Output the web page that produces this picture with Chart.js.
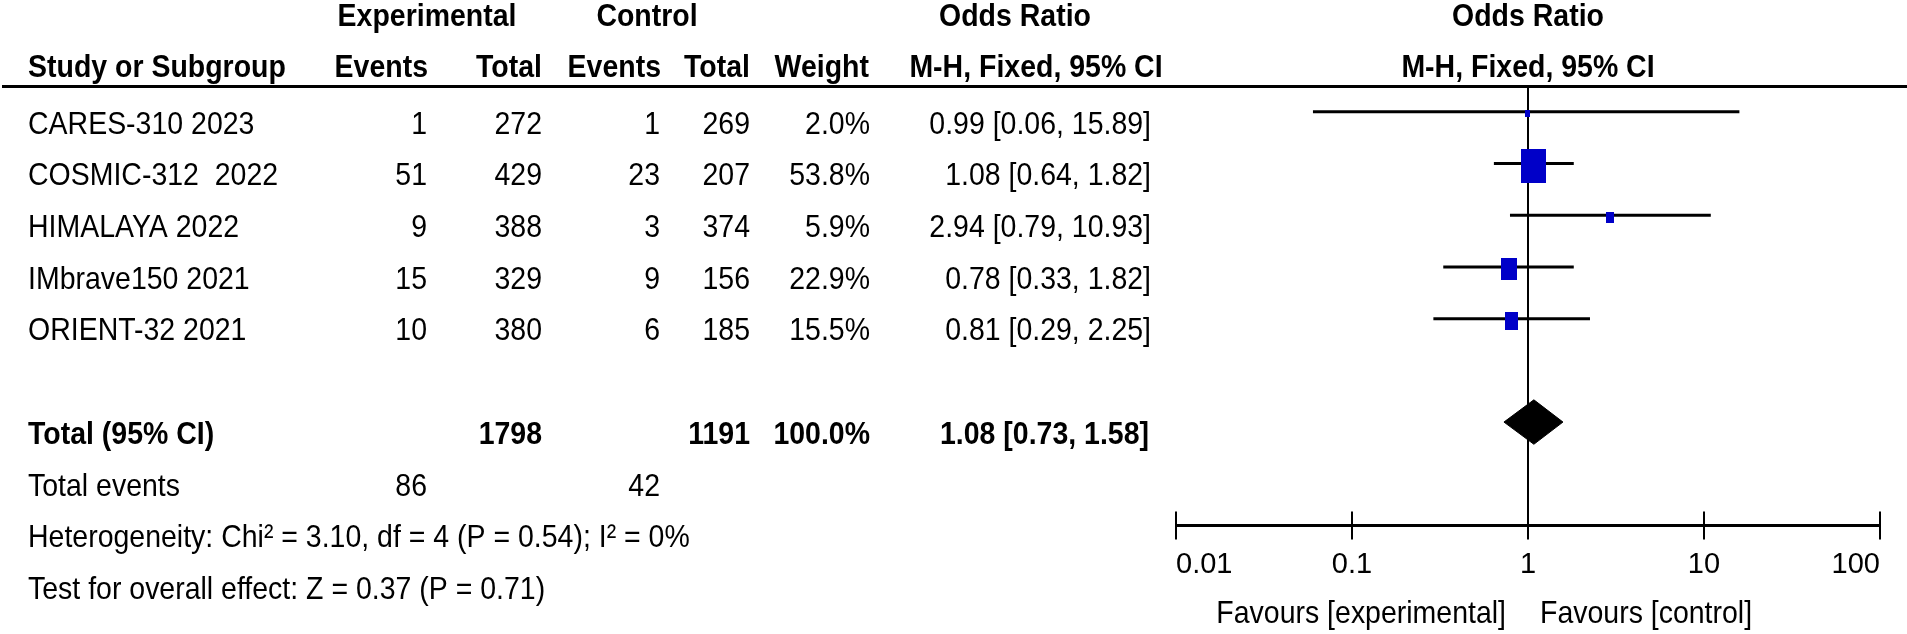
<!DOCTYPE html>
<html>
<head>
<meta charset="utf-8">
<script src="https://cdn.jsdelivr.net/npm/chart.js@4.4.1/dist/chart.umd.min.js"></script>
<style>
  html, body { margin: 0; padding: 0; background: #fff; }
  #wrap { width: 1907px; height: 634px; }
</style>
</head>
<body>
<div id="wrap"><canvas id="forest" width="1907" height="634"></canvas></div>
<script>
const studies = ["CARES-310 2023", "COSMIC-312  2022", "HIMALAYA 2022", "IMbrave150 2021", "ORIENT-32 2021"];
const expEvents = [1, 51, 9, 15, 10];
const expTotal = [272, 429, 388, 329, 380];
const ctrlEvents = [1, 23, 3, 9, 6];
const ctrlTotal = [269, 207, 374, 156, 185];
const weights = [2.0, 53.8, 5.9, 22.9, 15.5];
const oddsRatio = [0.99, 1.08, 2.94, 0.78, 0.81];
const ciLow = [0.06, 0.64, 0.79, 0.33, 0.29];
const ciHigh = [15.89, 1.82, 10.93, 1.82, 2.25];

const pooled = [1.08, 0.73, 1.58]; // OR, low, high
const totalExp = 1798;
const totalCtrl = 1191;
const totalWeight = 100.0;
const totalEvents = [86, 42];
const heterogeneity = "Heterogeneity: Chi² = 3.10, df = 4 (P = 0.54); I² = 0%";
const overallTest = "Test for overall effect: Z = 0.37 (P = 0.71)";

const tickValues = [0.01, 0.1, 1, 10, 100];
const tickLabels = ["0.01", "0.1", "1", "10", "100"];

const totalRow = 6;
const axisRow = 8;
const FONT = '"Liberation Sans", Arial, sans-serif';
const SX = 0.89; // text in the picture is a bit narrow

function ci(o, l, h) {
  return o.toFixed(2) + " [" + l.toFixed(2) + ", " + h.toFixed(2) + "]";
}

function box(w) {
  // square size from the weight, like RevMan
  const f = Math.sqrt(w / 53.8);
  const c = document.createElement("canvas");
  c.width = Math.max(4, Math.round(25 * f));
  c.height = Math.max(7, Math.round(34 * f));
  const g = c.getContext("2d");
  g.fillStyle = "#0000c8";
  g.fillRect(0, 0, c.width, c.height);
  return c;
}

function txt(ctx, s, x, y, align, bold) {
  ctx.save();
  ctx.font = (bold ? "bold " : "") + "32px " + FONT;
  ctx.fillStyle = "#000";
  ctx.textAlign = align;
  ctx.textBaseline = "middle";
  ctx.scale(SX, 1);
  ctx.fillText(s, x / SX, y);
  ctx.restore();
}

const forestBits = {
  id: "forestBits",
  beforeDatasetsDraw(chart) {
    const { ctx, scales: { x, y } } = chart;
    const x1 = x.getPixelForValue(1);
    const ay = y.getPixelForValue(axisRow);
    ctx.save();
    ctx.strokeStyle = "#000";
    ctx.lineWidth = 2;
    ctx.beginPath();
    ctx.moveTo(x1, chart.chartArea.top);
    ctx.lineTo(x1, ay);
    ctx.stroke();
    // tick marks across the axis
    x.ticks.forEach(t => {
      const px = x.getPixelForValue(t.value);
      ctx.beginPath();
      ctx.moveTo(px, ay - 14);
      ctx.lineTo(px, ay + 14);
      ctx.stroke();
    });
    ctx.restore();
  },
  afterDraw(chart) {
    const { ctx, scales: { x, y } } = chart;
    const row = k => y.getPixelForValue(k) + 13;

    // header rule
    ctx.save();
    ctx.fillStyle = "#000";
    ctx.fillRect(2, chart.chartArea.top - 1, chart.width - 2, 3);
    ctx.restore();

    // headers
    txt(ctx, "Experimental", 427, 17, "center", true);
    txt(ctx, "Control", 647, 17, "center", true);
    txt(ctx, "Odds Ratio", 1015, 17, "center", true);
    txt(ctx, "Odds Ratio", x.getPixelForValue(1), 17, "center", true);
    txt(ctx, "Study or Subgroup", 28, 68, "left", true);
    txt(ctx, "Events", 428, 68, "right", true);
    txt(ctx, "Total", 542, 68, "right", true);
    txt(ctx, "Events", 661, 68, "right", true);
    txt(ctx, "Total", 750, 68, "right", true);
    txt(ctx, "Weight", 869, 68, "right", true);
    txt(ctx, "M-H, Fixed, 95% CI", 1036, 68, "center", true);
    txt(ctx, "M-H, Fixed, 95% CI", x.getPixelForValue(1), 68, "center", true);

    // study rows
    studies.forEach((s, i) => {
      const ry = row(i);
      txt(ctx, s, 28, ry, "left");
      txt(ctx, String(expEvents[i]), 427, ry, "right");
      txt(ctx, String(expTotal[i]), 542, ry, "right");
      txt(ctx, String(ctrlEvents[i]), 660, ry, "right");
      txt(ctx, String(ctrlTotal[i]), 750, ry, "right");
      txt(ctx, weights[i].toFixed(1) + "%", 870, ry, "right");
      txt(ctx, ci(oddsRatio[i], ciLow[i], ciHigh[i]), 1151, ry, "right");
    });

    // total rows
    const ty = row(totalRow);
    txt(ctx, "Total (95% CI)", 28, ty, "left", true);
    txt(ctx, String(totalExp), 542, ty, "right", true);
    txt(ctx, String(totalCtrl), 750, ty, "right", true);
    txt(ctx, totalWeight.toFixed(1) + "%", 870, ty, "right", true);
    txt(ctx, ci(pooled[0], pooled[1], pooled[2]), 1149, ty, "right", true);

    const ey = row(totalRow + 1);
    txt(ctx, "Total events", 28, ey, "left");
    txt(ctx, String(totalEvents[0]), 427, ey, "right");
    txt(ctx, String(totalEvents[1]), 660, ey, "right");
    txt(ctx, heterogeneity, 28, row(totalRow + 2), "left");
    txt(ctx, overallTest, 28, row(totalRow + 3), "left");

    // favours labels
    const x1 = x.getPixelForValue(1);
    txt(ctx, "Favours [experimental]", x1 - 22, 614, "right");
    txt(ctx, "Favours [control]", x1 + 12, 614, "left");
  }
};

const ciSets = studies.map((s, i) => ({
  type: "line",
  label: s,
  data: [{ x: ciLow[i], y: i }, { x: ciHigh[i], y: i }],
  borderColor: "#000",
  borderWidth: 3,
  pointRadius: 0,
  order: 2
}));

const squareSet = {
  type: "scatter",
  label: "OR",
  data: oddsRatio.map((o, i) => ({ x: o, y: i + 0.04 })),
  pointStyle: weights.map(box),
  pointRadius: 10,
  order: 0
};

const diamondSet = {
  type: "line",
  label: "Total",
  data: [
    { x: pooled[1], y: totalRow },
    { x: pooled[0], y: totalRow - 0.43 },
    { x: pooled[2], y: totalRow },
    { x: pooled[0], y: totalRow + 0.43 },
    { x: pooled[1], y: totalRow }
  ],
  borderColor: "#000",
  backgroundColor: "#000",
  borderWidth: 1,
  pointRadius: 0,
  fill: "shape",
  order: 1
};

new Chart(document.getElementById("forest"), {
  type: "scatter",
  data: { datasets: [...ciSets, squareSet, diamondSet] },
  options: {
    responsive: false,
    animation: false,
    layout: { padding: { left: 1176, right: 27, top: 86, bottom: 31 } },
    plugins: { legend: { display: false }, tooltip: { enabled: false } },
    scales: {
      x: {
        type: "logarithmic",
        min: 0.01,
        max: 100,
        position: { y: axisRow },
        afterBuildTicks: s => { s.ticks = tickValues.map(v => ({ value: v })); },
        ticks: {
          align: "inner",
          padding: 22,
          color: "#000",
          font: { family: FONT, size: 29 },
          maxRotation: 0,
          autoSkip: false,
          callback: (v, i) => tickLabels[i]
        },
        grid: { drawOnChartArea: false, drawTicks: false, color: "rgba(0,0,0,0)" },
        border: { display: true, color: "#000", width: 3 }
      },
      y: {
        type: "linear",
        min: -0.5,
        max: 9.5,
        reverse: true,
        display: false
      }
    }
  },
  plugins: [forestBits]
});
</script>
</body>
</html>
